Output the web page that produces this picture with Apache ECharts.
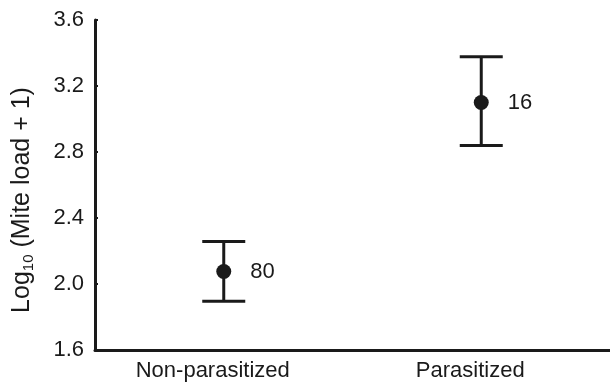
<!DOCTYPE html>
<html>
<head>
<meta charset="utf-8">
<script src="https://cdn.jsdelivr.net/npm/echarts@6/dist/echarts.min.js"></script>
<style>html,body{margin:0;padding:0;background:#fff}#c{width:610px;height:385px}</style>
</head>
<body>
<div id="c"></div>
<script>
const categories = ['Non-parasitized', 'Parasitized'];
const means = [2.076, 3.10];
const upper = [2.257, 3.378];
const lower = [1.895, 2.84];
const sampleSizes = ['80', '16'];
const yMin = 1.6, yMax = 3.6, yStep = 0.4;

const FONT = "'Liberation Sans', Arial, Helvetica, sans-serif";
const INK = '#1a1a1a';
const chart = echarts.init(document.getElementById('c'));
chart.setOption({
  animation: false,
  backgroundColor: '#fff',
  grid: { left: 95, right: 0, top: 20, bottom: 35 },
  xAxis: {
    type: 'category',
    data: categories,
    boundaryGap: true,
    axisLine: { lineStyle: { color: INK, width: 3 } },
    axisTick: { show: false },
    axisLabel: { color: INK, fontSize: 22, fontFamily: FONT, margin: 10, padding: [0, 22, 0, 0] },
    splitLine: { show: false }
  },
  yAxis: {
    type: 'value',
    min: yMin, max: yMax, interval: yStep,
    axisLine: { show: true, lineStyle: { color: INK, width: 3 } },
    axisTick: { show: true, inside: true, length: 3, lineStyle: { color: INK, width: 2 } },
    axisLabel: { color: INK, fontSize: 22, fontFamily: FONT, margin: 11, formatter: v => v.toFixed(1) },
    splitLine: { show: false }
  },
  graphic: [{
    type: 'text',
    x: 22, y: 200,
    rotation: Math.PI / 2,
    style: {
      text: '{a|Log}{b|10}{a| (Mite load + 1)}',
      align: 'center', verticalAlign: 'middle',
      fill: INK,
      rich: {
        a: { fontSize: 25, fontFamily: FONT, fill: INK },
        b: { fontSize: 15, fontFamily: FONT, fill: INK, padding: [13, 0, 0, 0] }
      }
    }
  }],
  series: [
    {
      type: 'custom',
      data: categories.map((c, i) => [i, lower[i], upper[i]]),
      renderItem: function (params, api) {
        const lo = api.coord([api.value(0), api.value(1)]);
        const hi = api.coord([api.value(0), api.value(2)]);
        const h = 21.5;
        const st = { stroke: INK, lineWidth: 3 };
        return {
          type: 'group',
          children: [
            { type: 'line', shape: { x1: lo[0], y1: lo[1], x2: hi[0], y2: hi[1] }, style: st },
            { type: 'line', shape: { x1: hi[0] - h, y1: hi[1], x2: hi[0] + h, y2: hi[1] }, style: st },
            { type: 'line', shape: { x1: lo[0] - h, y1: lo[1], x2: lo[0] + h, y2: lo[1] }, style: st }
          ]
        };
      },
      z: 2
    },
    {
      type: 'scatter',
      data: categories.map((c, i) => [i, means[i]]),
      symbol: 'circle',
      symbolSize: 15,
      itemStyle: { color: INK, opacity: 1 },
      label: {
        show: true, position: 'right', distance: 19,
        formatter: p => sampleSizes[p.dataIndex],
        color: INK, fontSize: 22, fontFamily: FONT
      },
      z: 3
    }
  ]
});
</script>
</body>
</html>
